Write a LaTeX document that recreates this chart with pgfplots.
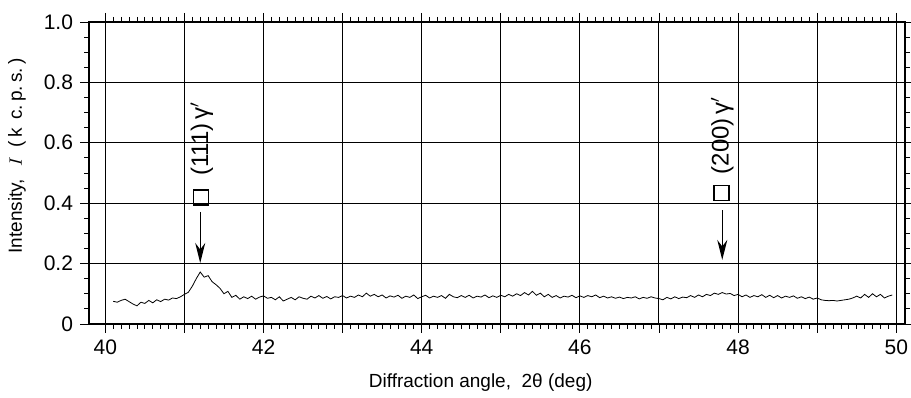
\documentclass[border=0pt]{standalone}
\usepackage{pgfplots}
\pgfplotsset{compat=1.18}
\usepackage{fontspec}
\setmainfont{Liberation Sans}
\usetikzlibrary{arrows.meta}
\pgfplotstableread{
x y
40.10 0.075
40.15 0.072
40.20 0.078
40.25 0.082
40.30 0.074
40.35 0.066
40.40 0.060
40.45 0.072
40.50 0.068
40.55 0.078
40.60 0.070
40.65 0.080
40.70 0.074
40.75 0.082
40.80 0.079
40.85 0.086
40.90 0.084
40.95 0.090
41.00 0.098
41.05 0.105
41.10 0.125
41.15 0.150
41.20 0.172
41.25 0.155
41.30 0.160
41.35 0.140
41.40 0.130
41.45 0.118
41.50 0.100
41.55 0.108
41.60 0.088
41.65 0.095
41.70 0.082
41.75 0.090
41.80 0.084
41.85 0.092
41.90 0.082
41.95 0.089
42.00 0.093
42.05 0.085
42.10 0.088
42.15 0.080
42.20 0.090
42.25 0.076
42.30 0.082
42.35 0.088
42.40 0.080
42.45 0.090
42.50 0.085
42.55 0.082
42.60 0.092
42.65 0.086
42.70 0.094
42.75 0.085
42.80 0.091
42.85 0.083
42.90 0.090
42.95 0.088
43.00 0.094
43.05 0.086
43.10 0.092
43.15 0.088
43.20 0.096
43.25 0.090
43.30 0.102
43.35 0.092
43.40 0.098
43.45 0.090
43.50 0.096
43.55 0.086
43.60 0.093
43.65 0.089
43.70 0.095
43.75 0.085
43.80 0.092
43.85 0.088
43.90 0.096
43.95 0.084
44.00 0.090
44.05 0.095
44.10 0.086
44.15 0.092
44.20 0.088
44.25 0.094
44.30 0.085
44.35 0.098
44.40 0.090
44.45 0.087
44.50 0.094
44.55 0.088
44.60 0.095
44.65 0.086
44.70 0.092
44.75 0.089
44.80 0.096
44.85 0.087
44.90 0.093
44.95 0.088
45.00 0.095
45.05 0.090
45.10 0.098
45.15 0.092
45.20 0.100
45.25 0.094
45.30 0.104
45.35 0.096
45.40 0.108
45.45 0.095
45.50 0.102
45.55 0.090
45.60 0.098
45.65 0.088
45.70 0.094
45.75 0.086
45.80 0.092
45.85 0.089
45.90 0.095
45.95 0.087
46.00 0.093
46.05 0.088
46.10 0.094
46.15 0.090
46.20 0.096
46.25 0.087
46.30 0.092
46.35 0.086
46.40 0.090
46.45 0.085
46.50 0.089
46.55 0.084
46.60 0.088
46.65 0.086
46.70 0.090
46.75 0.083
46.80 0.088
46.85 0.085
46.90 0.090
46.95 0.086
47.00 0.084
47.05 0.080
47.10 0.088
47.15 0.083
47.20 0.090
47.25 0.084
47.30 0.089
47.35 0.087
47.40 0.094
47.45 0.088
47.50 0.096
47.55 0.090
47.60 0.098
47.65 0.094
47.70 0.102
47.75 0.098
47.80 0.104
47.85 0.099
47.90 0.101
47.95 0.094
48.00 0.098
48.05 0.090
48.10 0.096
48.15 0.088
48.20 0.094
48.25 0.090
48.30 0.097
48.35 0.088
48.40 0.095
48.45 0.087
48.50 0.094
48.55 0.086
48.60 0.092
48.65 0.088
48.70 0.093
48.75 0.085
48.80 0.090
48.85 0.084
48.90 0.089
48.95 0.082
49.00 0.086
49.05 0.080
49.10 0.078
49.15 0.077
49.20 0.078
49.25 0.076
49.30 0.078
49.35 0.080
49.40 0.082
49.45 0.086
49.50 0.092
49.55 0.086
49.60 0.098
49.65 0.088
49.70 0.100
49.75 0.090
49.80 0.098
49.85 0.086
49.90 0.092
49.95 0.096
}\spectrum
\pgfplotstableread{
x y
41.21 0.419
47.79 0.434
}\squares
\begin{document}
\begin{tikzpicture}
\begin{axis}[
  scale only axis, width=408pt, height=151pt,
  xmin=39.794, xmax=50.11, ymin=0, ymax=1,
  xtick={40,...,50}, xticklabels={40,,42,,44,,46,,48,,50},
  ytick={0,0.2,0.4,0.6,0.8,1.0}, yticklabels={0,0.2,0.4,0.6,0.8,1.0},
  minor x tick num=9, minor y tick num=3,
  tick align=outside, xtick pos=both, ytick pos=both,
  major tick length=4.5pt, minor tick length=2.5pt,
  grid=major, major grid style={black, line width=0.5pt},
  axis line style={black, line width=0.6pt},
  every tick/.style={black, line width=0.4pt},
  tick label style={font=\fontsize{10.5}{12}\selectfont},
  label style={font=\fontsize{9.5}{11}\selectfont},
  xlabel={Diffraction angle,\ \ 2θ (deg)},
  ylabel={Intensity,\hspace{6pt}$I$\hspace{5pt}(\,k\ \,c.\,p.\,s.\,)},
  xlabel style={at={(axis description cs:0.48,0)}, anchor=center, yshift=-29.5pt},
  ylabel style={at={(axis description cs:-0.0882,0.556)}, anchor=center},
  clip=false,
]
\addplot[black, line width=0.4pt] table[x=x,y=y] {\spectrum};
\addplot[only marks, mark=square, mark size=3.75pt, mark options={line width=0.6pt}] table[x=x,y=y] {\squares};
\addplot[black, line width=0.7pt, -{Stealth[length=10pt,width=5pt]}] coordinates {(41.20,0.371) (41.20,0.202)};
\addplot[black, line width=0.7pt, -{Stealth[length=10pt,width=5pt]}] coordinates {(47.80,0.377) (47.80,0.212)};
\node[rotate=90, anchor=west, inner sep=0pt, font=\fontsize{12}{14}\selectfont] at (axis cs:41.22,0.49) {(111)\,γ$'$};
\node[rotate=90, anchor=west, inner sep=0pt, font=\fontsize{12}{14}\selectfont] at (axis cs:47.80,0.495) {(200)\,γ$'$};
\coordinate (bbsw) at (rel axis cs:-0.1091,-0.245);
\coordinate (bbne) at (rel axis cs:1.0074,1.0728);
\end{axis}
\pgfresetboundingbox
\path[use as bounding box] (bbsw) rectangle (bbne);
\end{tikzpicture}
\end{document}
